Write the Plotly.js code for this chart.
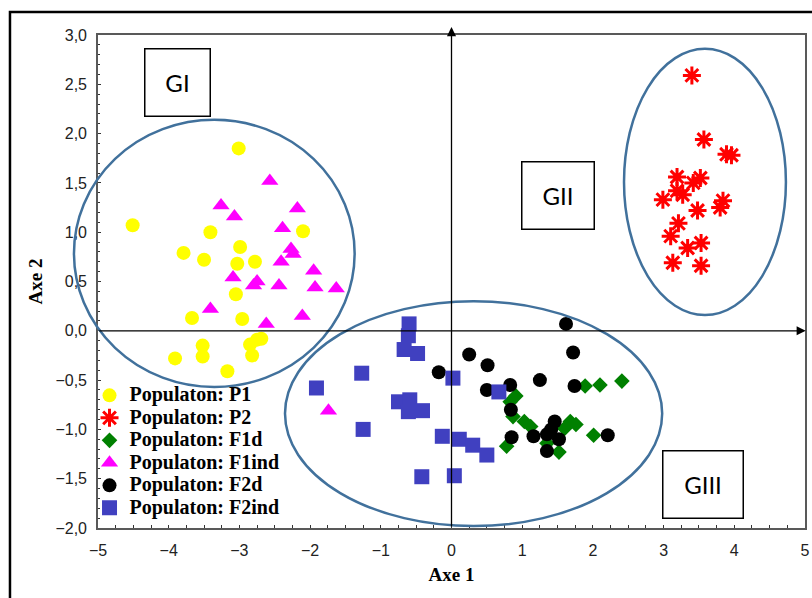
<!DOCTYPE html>
<html>
<head>
<meta charset="utf-8">
<script src="https://cdn.plot.ly/plotly-3.0.1.min.js"></script>
<style>html,body{margin:0;padding:0;background:#fff;}#chart{width:812px;height:598px;}</style>
</head>
<body>
<div id="chart"></div>
<script>
// ---- data ----
const seriesNames = ["Populaton: P1", "Populaton: P2", "Populaton: F1d", "Populaton: F1ind", "Populaton: F2d", "Populaton: F2ind"];

const p1X = [-3.01,-4.51,-3.41,-2.10,-3.79,-2.99,-3.50,-3.03,-2.78,-3.05,-3.67,-2.96,-2.69,-2.85,-3.52,-3.52,-2.82,-3.91,-3.17,-2.75];
const p1Y = [1.85,1.07,1.00,1.01,0.79,0.85,0.72,0.68,0.70,0.37,0.13,0.12,-0.08,-0.14,-0.15,-0.26,-0.25,-0.28,-0.41,-0.09];

const p2X = [3.40,3.57,3.89,3.96,3.19,3.52,3.42,3.19,3.27,2.99,3.84,3.80,3.48,3.21,3.10,3.34,3.53,3.13,3.53];
const p2Y = [2.59,1.94,1.79,1.78,1.56,1.55,1.50,1.42,1.38,1.33,1.32,1.25,1.22,1.09,0.96,0.84,0.89,0.69,0.66];

const f1dX = [2.41,2.10,1.89,0.91,0.83,0.87,1.03,1.12,1.68,1.76,1.60,2.01,0.78,1.52,1.35];
const f1dY = [-0.51,-0.55,-0.56,-0.66,-0.72,-0.87,-0.92,-0.97,-0.92,-0.95,-0.99,-1.06,-1.17,-1.23,-1.14];

const f1indX = [-2.57,-3.26,-2.18,-3.07,-2.39,-2.27,-2.24,-2.41,-1.95,-3.09,-2.75,-2.80,-2.44,-1.93,-1.63,-3.41,-2.11,-2.62,-1.74];
const f1indY = [1.52,1.27,1.24,1.16,1.04,0.83,0.78,0.70,0.61,0.54,0.50,0.46,0.46,0.44,0.43,0.22,0.15,0.07,-0.81];

const f2dX = [1.62,0.25,1.72,0.51,-0.18,1.25,0.83,1.74,0.50,0.84,1.46,1.16,0.85,1.35,1.52,1.35,2.21,1.41];
const f2dY = [0.07,-0.24,-0.22,-0.35,-0.42,-0.50,-0.55,-0.56,-0.60,-0.80,-0.92,-1.07,-1.08,-1.05,-1.10,-1.22,-1.06,-1.00];

const f2indX = [-0.60,-0.61,-0.67,-0.48,-1.27,-1.91,0.02,0.67,-0.75,-0.59,-0.61,-0.41,-1.25,-0.13,0.11,0.30,0.50,-0.42,0.04];
const f2indY = [0.07,-0.05,-0.19,-0.23,-0.43,-0.58,-0.48,-0.62,-0.72,-0.70,-0.82,-0.81,-1.00,-1.07,-1.10,-1.16,-1.26,-1.48,-1.47];

// group labels and their ellipses (data units)
const groupLabels = ["GI", "GII", "GIII"];
const groupLabelX = [-3.88, 1.50, 3.56];
const groupLabelY = [2.52, 1.37, -1.56];
const ellipseX0 = [-5.34, 2.44, -2.355];
const ellipseX1 = [-1.37, 4.73, 2.98];
const ellipseY0 = [-0.57, 0.16, -1.98];
const ellipseY1 = [2.14, 2.86, 0.30];

const xRange = [-5, 5];
const yRange = [-2, 3];

// ---- styles ----
const colors = ["#ffff00", "#ff0000", "#008000", "#ff00ff", "#000000", "#4040c0"];
const xs = [p1X, p2X, f1dX, f1indX, f2dX, f2indX];
const ys = [p1Y, p2Y, f1dY, f1indY, f2dY, f2indY];
const markers = [
  {symbol: "circle", size: 14, color: colors[0]},
  {symbol: "asterisk-open", size: 15, color: colors[1], line: {color: colors[1], width: 3}},
  {symbol: "diamond", size: 12, color: colors[2]},
  {symbol: "triangle-up", size: 15, color: colors[3]},
  {symbol: "circle", size: 14, color: colors[4]},
  {symbol: "square", size: 15, color: colors[5]}
];

const traces = seriesNames.map((n, i) => ({
  type: "scatter", mode: "markers",
  x: xs[i], y: ys[i],
  name: '<span style="font-size:20px"><b>' + n + '</b></span>',
  marker: markers[i],
  cliponaxis: false
}));

const px = v => (v - xRange[0]) / (xRange[1] - xRange[0]);
const py = v => (v - yRange[0]) / (yRange[1] - yRange[0]);

const shapes = groupLabels.map((g, i) => ({
  type: "circle", xref: "paper", yref: "paper",
  x0: px(ellipseX0[i]), x1: px(ellipseX1[i]),
  y0: py(ellipseY0[i]), y1: py(ellipseY1[i]),
  line: {color: "#41719c", width: 2.5}, layer: "above"
}));
// outer frame of the figure
shapes.push({type: "rect", xref: "paper", yref: "paper", x0: -0.1245, x1: 1.05, y0: -0.2, y1: 1.0467,
  line: {color: "#000", width: 2.5}, layer: "below"});

const annotations = groupLabels.map((g, i) => ({
  x: groupLabelX[i], y: groupLabelY[i], xref: "x", yref: "y",
  text: g, showarrow: false,
  font: {family: "Lato, 'Noto Sans', sans-serif", size: 24, color: "#000"},
  bordercolor: "#000", borderwidth: 1.5, borderpad: 0,
  bgcolor: "#fff",
  width: [64, 71, 79][i], height: 66
}));
// axis arrows through the origin
annotations.push({
  xref: "paper", yref: "paper", x: px(0), y: 1.016, ax: 0, ay: 501,
  showarrow: true, arrowhead: 2, arrowsize: 1.4, arrowwidth: 1.3, arrowcolor: "#000", text: ""
});
annotations.push({
  xref: "paper", yref: "paper", x: 1.001, y: py(0), ax: -708, ay: 0,
  showarrow: true, arrowhead: 2, arrowsize: 1.4, arrowwidth: 1.3, arrowcolor: "#000", text: ""
});

const tickFont = {family: "'Liberation Sans', Arial, sans-serif", size: 16, color: "#222"};
const titleFont = {family: "'Liberation Serif', 'Times New Roman', serif", size: 19, color: "#000", weight: "bold"};

const layout = {
  width: 812, height: 598,
  margin: {l: 98, r: 7, t: 35, b: 70},
  paper_bgcolor: "#fff", plot_bgcolor: "#fff",
  separators: ",.",
  showlegend: true,
  legend: {
    x: -0.012, y: 0.302, xanchor: "left", yanchor: "top",
    bgcolor: "rgba(0,0,0,0)", borderwidth: 0,
    font: {family: "'Liberation Serif', 'Times New Roman', serif", size: 15, color: "#000"},
    itemsizing: "trace"
  },
  xaxis: {
    range: xRange, dtick: 1, tick0: 0, tickformat: "d",
    showgrid: false, zeroline: false,
    showline: true, mirror: true, linecolor: "#595959", linewidth: 1.8,
    ticks: "inside", ticklen: 3, tickcolor: "#333", tickwidth: 1,
    minor: {dtick: 0.25, ticks: "inside", ticklen: 3, tickcolor: "#333", showgrid: false},
    tickfont: tickFont, ticklabelstandoff: 7,
    title: {text: "<b>Axe 1</b>", font: titleFont, standoff: 10}
  },
  yaxis: {
    range: yRange, dtick: 0.5, tick0: 0, tickformat: ".1f",
    showgrid: false, zeroline: false,
    showline: true, mirror: true, linecolor: "#595959", linewidth: 1.8,
    ticks: "inside", ticklen: 3, tickcolor: "#333", tickwidth: 1,
    minor: {dtick: 0.1, ticks: "inside", ticklen: 2, tickcolor: "#333", showgrid: false},
    tickfont: tickFont, ticklabelstandoff: 6,
    title: {text: "<b>Axe 2</b>", font: titleFont, standoff: 8}
  },
  shapes: shapes,
  annotations: annotations
};

Plotly.newPlot("chart", traces, layout, {staticPlot: true, displayModeBar: false});
</script>
</body>
</html>
